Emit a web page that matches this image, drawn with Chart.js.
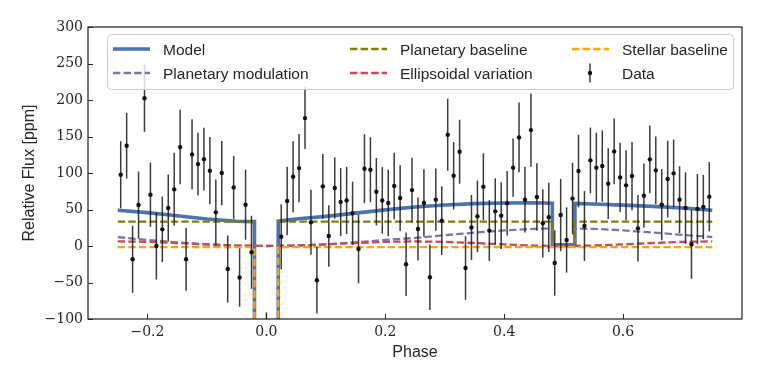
<!DOCTYPE html>
<html>
<head>
<meta charset="utf-8">
<script src="https://cdn.jsdelivr.net/npm/chart.js@4.4.0/dist/chart.umd.min.js"></script>
<style>
  html, body { margin: 0; padding: 0; background: #fff; }
  #wrap { width: 764px; height: 382px; }
</style>
</head>
<body>
<div id="wrap"><canvas id="chart-fase" width="764" height="382"></canvas></div>
<script>
// Binned data points (phase, flux in ppm, 1-sigma error)
const dataPhase = [
  -0.245, -0.235, -0.225, -0.215, -0.205, -0.195, -0.185, -0.175, -0.165, -0.155,
  -0.145, -0.135, -0.125, -0.115, -0.105, -0.095, -0.085, -0.075, -0.065, -0.055,
  -0.045, -0.035, -0.025, -0.015, 0.0, 0.015,
  0.025, 0.035, 0.045, 0.055, 0.065, 0.075, 0.085, 0.095, 0.105, 0.115,
  0.125, 0.135, 0.145, 0.155, 0.165, 0.175, 0.185, 0.195, 0.205, 0.215,
  0.225, 0.235, 0.245, 0.255, 0.265, 0.275, 0.285, 0.295, 0.305, 0.315,
  0.325, 0.335, 0.345, 0.355, 0.365, 0.375, 0.385, 0.395, 0.405, 0.415,
  0.425, 0.435, 0.445, 0.455, 0.465, 0.475, 0.485, 0.495, 0.505, 0.515,
  0.525, 0.535, 0.545, 0.555, 0.565, 0.575, 0.585, 0.595, 0.605, 0.615,
  0.625, 0.635, 0.645, 0.655, 0.665, 0.675, 0.685, 0.695, 0.705, 0.715,
  0.725, 0.735, 0.745
];
const dataFlux = [
  97.7, 137.4, -18.2, 56.1, 202.5, 70.3, 0, 22.8, 52, 77.6,
  135.5, -18.2, 125.5, 112.2, 119, 103.2, 46.1, 99.9, -31.5, 80.3,
  -43.2, 56.6, -8.6, -420, -137, -380,
  12.8, 61.6, 95, 106.7, 175.2, 32.4, -47, 81.7, 13.7, 79.4,
  60.2, 62.5, 44.8, -4.1, 105.9, 104.5, 74.4, 62.5, 58.9, 82.1,
  65.7, -25, 76.6, 23.3, 58.9, -42.8, 63.5, 34.7, 152.4, 96.3,
  129.2, -30.1, 25.4, 40.6, 81.3, 21.1, 47.5, 41.6, 58.4, 107.3,
  148.8, 63.4, 158.8, 67.1, 31.1, 39.3, -23.2, 42.4, 8.2, 64.9,
  102.7, 27.4, 117.3, 107.3, 109.5, 85.4, 129.6, 94, 83.1, 95.8,
  24.2, 69, 118.7, 103.6, 56.6, 91.7, 99.5, 63.4, 52, 2.3,
  50.6, 53.4, 67.6
];
const dataErr = [
  46, 45, 46, 46, 46, 44, 46, 45, 46, 50,
  51, 43, 48, 43, 43, 46, 45, 44, 46, 43,
  40, 48, 50, 46, 46, 46,
  44.5, 46.8, 48.6, 46.8, 42.2, 44.5, 45.6, 44.3, 42.2, 42,
  46.5, 46.1, 43.3, 47, 47.2, 44.5, 46.1, 45.6, 45.6, 45.6,
  45, 43.6, 44.3, 43.3, 46.3, 45, 42.7, 47, 49.3, 46.1,
  43.8, 43.6, 44.5, 49, 45.8, 41.7, 45.2, 45.8, 44.3, 40,
  47.7, 45, 50.2, 46.1, 46.8, 47.4, 44.7, 49.5, 44.7, 49,
  49.7, 47.9, 45, 47.9, 48.8, 48.4, 45, 47.4, 47.9, 46.8,
  45.6, 44, 46.3, 46.5, 48.8, 52.5, 46.3, 45.8, 49, 47.2,
  48.1, 44, 47.4
];

// Model curve (transit and secondary eclipse drawn as steps)
const modelPhase = [-0.25, -0.2, -0.15, -0.1, -0.05, -0.02, -0.02, 0.02, 0.02, 0.05, 0.1, 0.15, 0.2,
  0.25, 0.3, 0.35, 0.4, 0.45, 0.481, 0.481, 0.519, 0.519, 0.55, 0.6, 0.65, 0.7, 0.75];
const modelFlux = [49, 45.7, 41.5, 37, 34, 33.4, -1000, -1000, 34, 37, 40.6, 45, 49.5,
  53.5, 56.2, 58, 59, 59.2, 58.6, 1.5, 1.5, 58.4, 57.6, 56, 54.3, 52, 49];

// Planetary modulation
const modPhase = [-0.25, -0.2, -0.15, -0.1, -0.05, 0, 0.05, 0.1, 0.15, 0.2, 0.25, 0.3, 0.35, 0.4,
  0.45, 0.481, 0.481, 0.519, 0.519, 0.55, 0.6, 0.65, 0.7, 0.75];
const modFlux = [12.3, 8.3, 5, 2.3, 0.6, 0, 0.6, 2.3, 5, 8.3, 11, 14.8, 18.3, 21.3,
  23.5, 24, 0, 0, 24, 23.5, 21.5, 18.5, 15.2, 12.3];

// Planetary baseline (hidden in transit, zero in eclipse)
const plBasePhase = [-0.25, -0.02, 0, 0.02, 0.481, 0.481, 0.519, 0.519, 0.75];
const plBaseFlux = [33.3, 33.3, null, 33.3, 33.3, 0, 0, 33.3, 33.3];

// Ellipsoidal variation
const ellPhase = [-0.25, -0.2, -0.15, -0.1, -0.05, 0, 0.05, 0.1, 0.15, 0.2, 0.25,
  0.3, 0.35, 0.4, 0.45, 0.5, 0.55, 0.6, 0.65, 0.7, 0.75];
const ellFlux = [6.3, 5.7, 4.1, 2.2, 0.6, 0, 0.6, 2.2, 4.1, 5.7, 6.3,
  5.7, 4.1, 2.2, 0.6, 0, 0.6, 2.2, 4.1, 5.7, 6.3];

// Stellar baseline
const stPhase = [-0.25, -0.02, -0.02, 0.02, 0.02, 0.75];
const stFlux = [-1.5, -1.5, -1000, -1000, -1.5, -1.5];

const xTicks = [-0.2, 0.0, 0.2, 0.4, 0.6];
const yTicks = [-100, -50, 0, 50, 100, 150, 200, 250, 300];

const TEXT = '#262626';
const SANS = "'Liberation Sans', Arial, sans-serif";
const SERIF = "'DejaVu Serif', serif";

function puntos(xs, ys) {
  return xs.map((x, i) => ({ x: x, y: ys[i] }));
}

function menos(s) {
  return String(s).replace('-', '\u2212');
}

function linea(label, xs, ys, color, width, dash, order) {
  return {
    label: label,
    data: puntos(xs, ys),
    showLine: true,
    borderColor: color,
    backgroundColor: color,
    borderWidth: width,
    borderDash: dash,
    pointRadius: 0,
    spanGaps: false,
    order: order
  };
}

// error bars drawn right before the data points
const errorBarsPlugin = {
  id: 'errorBars',
  beforeDatasetDraw(chart, args) {
    const ds = chart.data.datasets[args.index];
    if (!ds.errors) return;
    const { ctx, chartArea: a, scales: { x, y } } = chart;
    ctx.save();
    ctx.beginPath();
    ctx.rect(a.left, a.top, a.right - a.left, a.bottom - a.top);
    ctx.clip();
    ctx.strokeStyle = ds.errorColor;
    ctx.lineWidth = 1.5;
    ds.data.forEach((p, i) => {
      const px = x.getPixelForValue(p.x);
      ctx.beginPath();
      ctx.moveTo(px, y.getPixelForValue(p.y - ds.errors[i]));
      ctx.lineTo(px, y.getPixelForValue(p.y + ds.errors[i]));
      ctx.stroke();
    });
    ctx.restore();
  }
};

// frame and inward ticks
const marcoPlugin = {
  id: 'marco',
  afterDatasetsDraw(chart) {
    const { ctx, chartArea: a, scales: { x, y } } = chart;
    ctx.save();
    ctx.strokeStyle = TEXT;
    ctx.lineWidth = 1;
    x.ticks.forEach(t => {
      const px = Math.round(x.getPixelForValue(t.value)) + 0.5;
      ctx.beginPath();
      ctx.moveTo(px, a.bottom);
      ctx.lineTo(px, a.bottom - 5);
      ctx.stroke();
    });
    y.ticks.forEach(t => {
      const py = Math.round(y.getPixelForValue(t.value)) + 0.5;
      ctx.beginPath();
      ctx.moveTo(a.left, py);
      ctx.lineTo(a.left + 5, py);
      ctx.stroke();
    });
    ctx.lineWidth = 1.25;
    ctx.strokeRect(a.left, a.top, a.right - a.left, a.bottom - a.top);
    ctx.restore();
  }
};

// matplotlib style legend, 3 columns, column-major
const leyendaPlugin = {
  id: 'leyenda',
  afterDraw(chart) {
    const ctx = chart.ctx;
    const ds = chart.data.datasets;
    const box = { x: 107.5, y: 34.5, w: 626, h: 55 };
    const cols = [113, 350, 572];
    const rows = [49, 73];
    ctx.save();
    ctx.beginPath();
    ctx.roundRect(box.x, box.y, box.w, box.h, 4);
    ctx.fillStyle = 'rgba(255,255,255,0.8)';
    ctx.fill();
    ctx.strokeStyle = '#cccccc';
    ctx.lineWidth = 1;
    ctx.stroke();

    ctx.font = '15.5px ' + SANS;
    ctx.textBaseline = 'alphabetic';
    ctx.textAlign = 'left';
    ds.forEach((d, k) => {
      const hx = cols[Math.floor(k / 2)];
      const hy = rows[k % 2];
      if (d.errors) {
        ctx.strokeStyle = d.errorColor;
        ctx.lineWidth = 1.5;
        ctx.beginPath();
        ctx.moveTo(hx + 18, hy - 9.5);
        ctx.lineTo(hx + 18, hy + 9.5);
        ctx.stroke();
        ctx.fillStyle = d.backgroundColor;
        ctx.beginPath();
        ctx.arc(hx + 18, hy, 2.2, 0, Math.PI * 2);
        ctx.fill();
      } else {
        ctx.strokeStyle = d.borderColor;
        ctx.lineWidth = d.borderWidth;
        ctx.setLineDash(d.borderDash || []);
        ctx.beginPath();
        ctx.moveTo(hx, hy);
        ctx.lineTo(hx + 37, hy);
        ctx.stroke();
        ctx.setLineDash([]);
      }
      ctx.fillStyle = TEXT;
      ctx.fillText(d.label, hx + 50, hy + 6);
    });
    ctx.restore();
  }
};

function renderCurvaFase(ctx) {
  const config = {
    type: 'scatter',
    data: {
      datasets: [
        linea('Model', modelPhase, modelFlux, '#4c72b0', 3.6, [], 6),
        linea('Planetary modulation', modPhase, modFlux, '#8172b2', 2.3, [7.4, 3.2], 5),
        linea('Planetary baseline', plBasePhase, plBaseFlux, '#808000', 2.3, [7.4, 3.2], 4),
        linea('Ellipsoidal variation', ellPhase, ellFlux, '#c44e52', 2.3, [7.4, 3.2], 3),
        linea('Stellar baseline', stPhase, stFlux, '#ffa500', 2.3, [7.4, 3.2], 2),
        {
          label: 'Data',
          data: puntos(dataPhase, dataFlux),
          showLine: false,
          pointRadius: 2.2,
          pointBorderWidth: 0,
          backgroundColor: '#111111',
          borderColor: '#111111',
          errors: dataErr,
          errorColor: 'rgba(25,25,25,0.85)',
          order: 1
        }
      ]
    },
    options: {
      responsive: false,
      animation: false,
      devicePixelRatio: 1,
      layout: { padding: { left: 20, right: 22, top: 27, bottom: 20 } },
      plugins: {
        legend: { display: false },
        tooltip: { enabled: false }
      },
      scales: {
        x: {
          type: 'linear',
          min: -0.3,
          max: 0.8,
          grid: { display: false, drawTicks: false },
          border: { display: false },
          afterBuildTicks: s => { s.ticks = xTicks.map(v => ({ value: v })); },
          afterFit: s => { s.height = 43; },
          ticks: {
            padding: 5,
            color: TEXT,
            font: { family: SERIF, size: 14 },
            callback: v => menos(v.toFixed(1))
          },
          title: {
            display: true,
            text: 'Phase',
            color: TEXT,
            padding: 0,
            font: { family: SANS, size: 16 }
          }
        },
        y: {
          type: 'linear',
          min: -100,
          max: 300,
          grid: { display: false, drawTicks: false },
          border: { display: false },
          afterBuildTicks: s => { s.ticks = yTicks.map(v => ({ value: v })); },
          afterFit: s => { s.width = 68; },
          ticks: {
            padding: 5,
            color: TEXT,
            font: { family: SERIF, size: 14 },
            callback: v => menos(v)
          },
          title: {
            display: true,
            text: 'Relative Flux [ppm]',
            color: TEXT,
            padding: 0,
            font: { family: SANS, size: 16 }
          }
        }
      }
    },
    plugins: [errorBarsPlugin, marcoPlugin, leyendaPlugin]
  };
  return new Chart(ctx, config);
}

renderCurvaFase(document.getElementById('chart-fase'));
</script>
</body>
</html>
